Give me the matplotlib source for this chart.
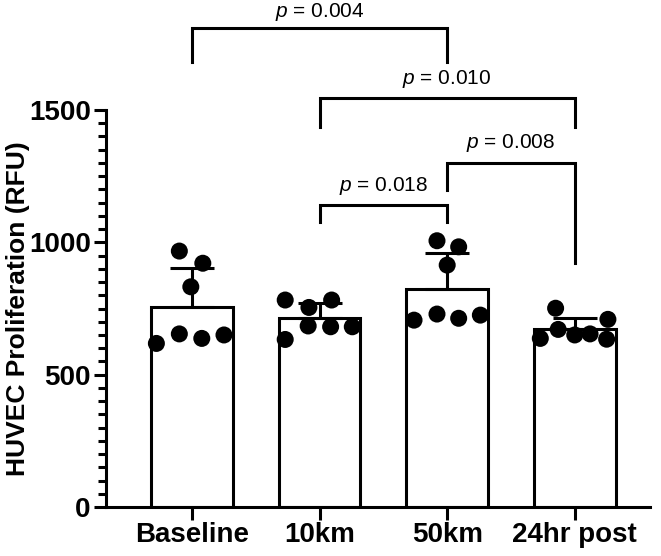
import matplotlib
matplotlib.use("Agg")
import matplotlib.pyplot as plt
import numpy as np

plt.rcParams['font.family'] = ['Liberation Sans', 'DejaVu Sans']
plt.rcParams['mathtext.fontset'] = 'custom'
plt.rcParams['mathtext.it'] = 'Liberation Sans:italic'
plt.rcParams['mathtext.rm'] = 'Liberation Sans'

categories = ["Baseline", "10km", "50km", "24hr post"]
baseline = [967, 921, 832, 618, 654, 637, 650]
km10 = [782, 754, 782, 633, 684, 681, 681]
km50 = [1006, 983, 914, 706, 729, 713, 725]
post24 = [751, 709, 637, 671, 650, 654, 634]
groups = [baseline, km10, km50, post24]

# horizontal scatter offsets of the points (layout only)
jitter = [
    [-0.10, 0.084, -0.01, -0.28, -0.10, 0.076, 0.25],
    [-0.27, -0.084, 0.094, -0.27, -0.09, 0.086, 0.256],
    [-0.08, 0.09, 0.0, -0.26, -0.08, 0.09, 0.26],
    [-0.15, 0.26, -0.27, -0.13, 0.0, 0.12, 0.25],
]

# comparisons: (group i, group j, p label)
comparisons = [(0, 2, "0.004"), (1, 3, "0.010"), (2, 3, "0.008"), (1, 2, "0.018")]
# bracket geometry in data units: (bar y, left leg bottom, right leg bottom, text y)
bracket_geom = [
    (1808, 1682, 1682, 1872),
    (1544, 1437, 1437, 1618),
    (1300, 1198, 922, 1374),
    (1141, 1077, 1077, 1214),
]

means = [np.mean(g) for g in groups]
sds = [np.std(g, ddof=1) for g in groups]

fig = plt.figure(figsize=(6.61, 5.56), dpi=100)
ax = fig.add_axes([106/661, 49/556, 544/661, 397/556])
x = np.arange(len(categories))
lw = 2.2
ax.bar(x, means, width=0.64, color='white', edgecolor='black', linewidth=lw, zorder=2)
ax.errorbar(x, means, yerr=[np.zeros(4), sds], fmt='none', ecolor='black',
            elinewidth=lw, capsize=16, capthick=lw, zorder=3)
for i, g in enumerate(groups):
    ax.scatter(i + np.array(jitter[i]), g, s=150, color='black', zorder=4,
               edgecolors='none', clip_on=False)

for (i, j, p), (yb, l1, l2, ty) in zip(comparisons, bracket_geom):
    ax.plot([i, i, j, j], [l1, yb, yb, l2], color='black', lw=lw,
            clip_on=False, solid_joinstyle='miter', zorder=5)
    ax.text((i + j) / 2, ty, r"$\it{p}$" + " = " + p, ha='center', va='center',
            fontsize=15, clip_on=False)

ax.set_xlim(-0.675, 3.59)
ax.set_ylim(0, 1500)
ax.set_yticks([0, 500, 1000, 1500])
ax.set_yticks(np.arange(0, 1501, 50), minor=True)
ax.set_xticks(x)
ax.set_xticklabels(categories, fontsize=20, fontweight='bold')
for lbl in ax.get_yticklabels():
    lbl.set_fontsize(20)
    lbl.set_fontweight('bold')
ax.set_ylabel("HUVEC Proliferation (RFU)", fontsize=19, fontweight='bold')
ax.yaxis.set_label_coords(-0.14, 0.5)
for s in ['top', 'right']:
    ax.spines[s].set_visible(False)
for s in ['left', 'bottom']:
    ax.spines[s].set_linewidth(lw)
ax.tick_params(axis='both', which='major', length=9, width=lw, pad=2)
ax.tick_params(axis='y', which='minor', length=6, width=lw)
ax.tick_params(axis='x', which='minor', length=0)

fig.savefig("out.png", dpi=100)
